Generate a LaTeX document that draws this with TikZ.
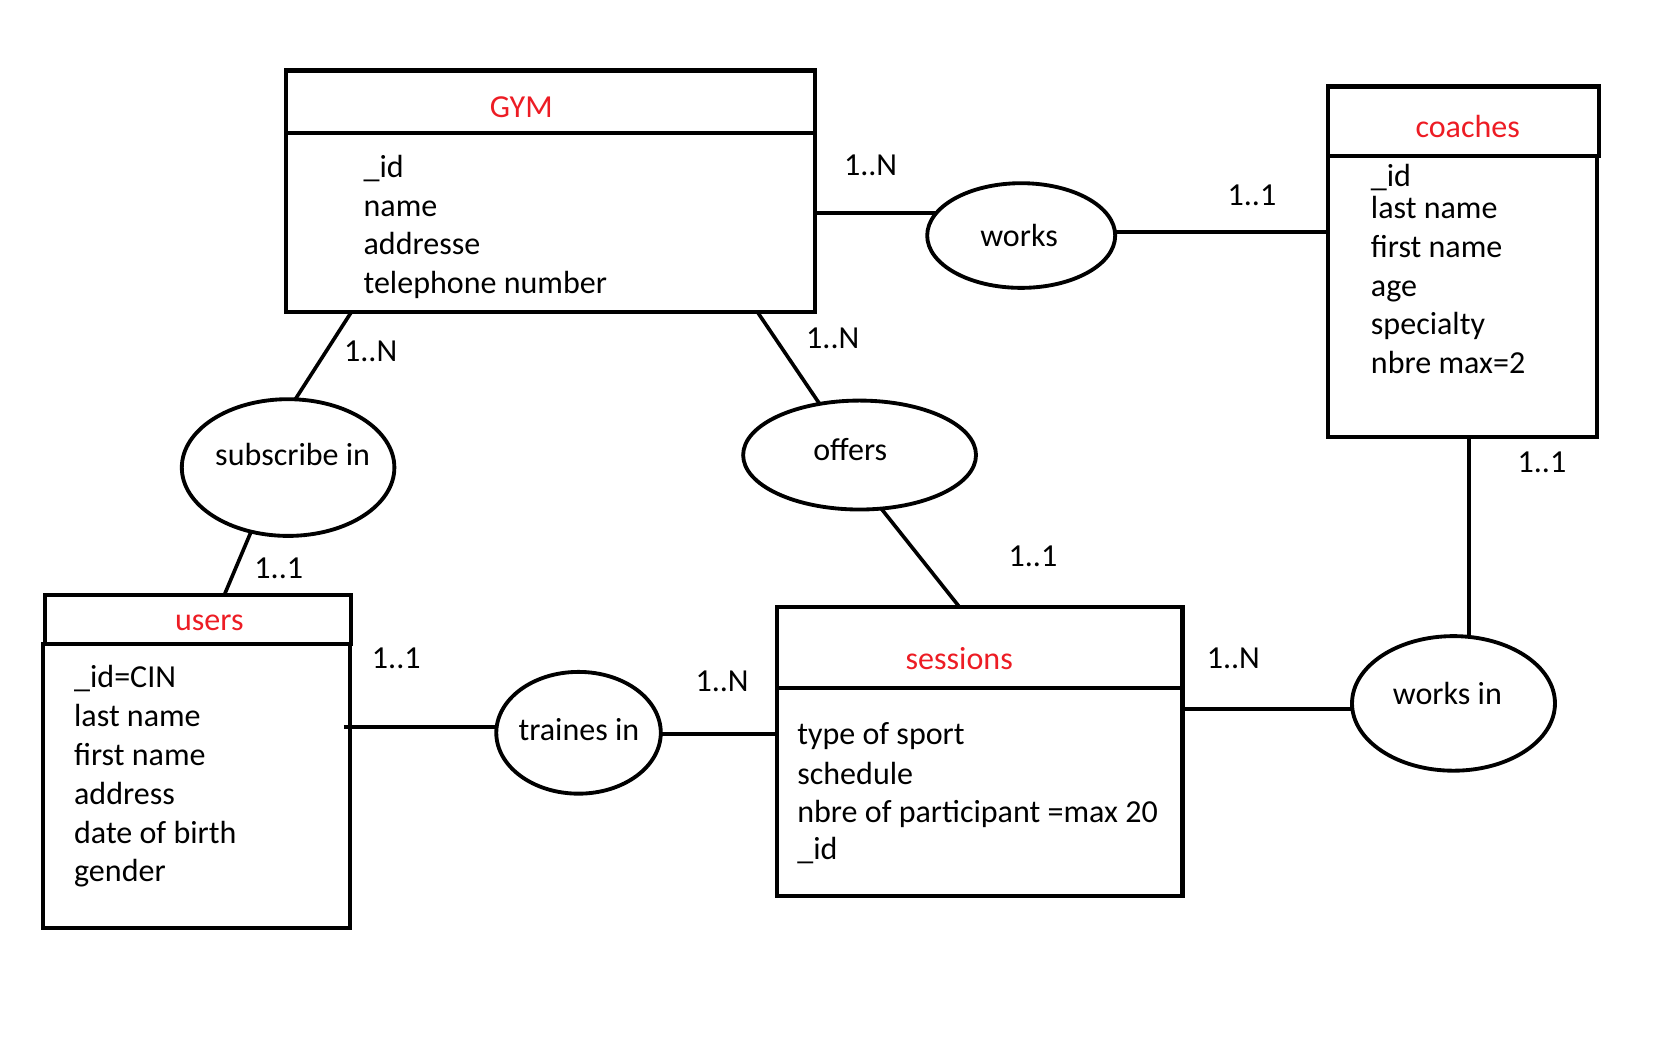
\documentclass[tikz,border=0pt]{standalone}
\usepackage{fontspec}
\setmainfont{Carlito}
\usetikzlibrary{shapes.geometric,calc}
\definecolor{paintred}{RGB}{237,28,36}
\def\u{0.5pt}
\begin{document}
\begin{tikzpicture}[x=0.5pt,y=-0.5pt,
  every node/.style={font=\fontsize{15}{18}\selectfont},
  entbox/.style={draw,rectangle,line width=1.9pt,inner sep=0pt,outer sep=0pt},
  relell/.style={draw,ellipse,line width=1.8pt,inner sep=0pt,outer sep=0pt},
  conn/.style={line width=1.7pt},
  attr/.style={anchor=base west,inner sep=0pt,yshift=-1.2pt},
  ttl/.style={anchor=base,inner sep=0pt,text=paintred,yshift=-1.2pt},
  lbl/.style={anchor=base,inner sep=0pt,yshift=-1.2pt},
  card/.style={anchor=base,inner sep=0pt,yshift=-1.2pt}]
\useasboundingbox (0,0) rectangle (1569,989);
\fill[white] (0,0) rectangle (1569,989);

% entities
\node[entbox,minimum width=495*\u,minimum height=226*\u] (gym) at (515.5,179) {};
\draw[line width=1.9pt] (gym.west |- 0,124.5) -- (gym.east |- 0,124.5);
\node[entbox,minimum width=254*\u,minimum height=65*\u] (coh) at (1370,113.5) {};
\node[entbox,minimum width=252*\u,minimum height=263*\u] (cob) at (1369,277.5) {};
\node[entbox,minimum width=287*\u,minimum height=46*\u] (uh) at (185.5,580) {};
\node[entbox,minimum width=288*\u,minimum height=266*\u] (ub) at (184,736) {};
\node[entbox,minimum width=380*\u,minimum height=271*\u] (ses) at (917,703.5) {};
\draw[line width=1.9pt] (ses.west |- 0,644.5) -- (ses.east |- 0,644.5);

% titles
\node[ttl] (gymt) at (488,108) {GYM};
\node[ttl] (coht) at (1374,126) {coaches};
\node[ttl] (uht) at (196,588) {users};
\node[ttl] (sest) at (898,624) {sessions};

% attributes
\node[attr] (g1) at (340,164) {\_id};
\node[attr] (g2) at (340,200) {name};
\node[attr] (g3) at (340,236) {addresse};
\node[attr] (g4) at (340,272) {telephone number};

\node[attr] (c1) at (1283,172) {\_id};
\node[attr] (c2) at (1283,202) {last name};
\node[attr] (c3) at (1283,239) {first name};
\node[attr] (c4) at (1283,275) {age};
\node[attr] (c5) at (1283,311) {specialty};
\node[attr] (c6) at (1283,347) {nbre max=2};

\node[attr] (u1) at (69,641) {\_id=CIN};
\node[attr] (u2) at (69,678) {last name};
\node[attr] (u3) at (69,714) {first name};
\node[attr] (u4) at (69,750.5) {address};
\node[attr] (u5) at (69,787) {date of birth};
\node[attr] (u6) at (69,823) {gender};

\node[attr] (s1) at (746,695) {type of sport};
\node[attr] (s2) at (746,732) {schedule};
\node[attr] (s3) at (746,768) {nbre of participant =max 20};
\node[attr] (s4) at (746,802) {\_id};

% relationships
\node[relell,minimum width=176*\u,minimum height=98*\u] (works) at (956,220.5) {};
\node[relell,minimum width=199*\u,minimum height=128*\u] (subs) at (269.7,437.7) {};
\node[relell,minimum width=218*\u,minimum height=102*\u] (offers) at (804.7,426) {};
\node[relell,minimum width=154*\u,minimum height=114*\u] (traines) at (541.6,686) {};
\node[relell,minimum width=190*\u,minimum height=126*\u] (worksin) at (1360.7,658.5) {};

\node[lbl] (workst) at (954,228.5) {works};
\node[lbl] (subst) at (274,433) {subscribe in};
\node[lbl] (offerst) at (796,429) {offers};
\node[lbl] (trainest) at (542,691) {traines in};
\node[lbl] (worksint) at (1355,657) {works in};

% connectors
\draw[conn] (gym.east |- works.165.6) -- (works.165.6);
\draw[conn] (works.2.3) -- (works.2.3 -| cob.west);
\draw[conn] ($(gym.south west)+(61,0)$) -- (subs.84.6);
\draw[conn] (subs.240.8) -- ($(uh.north west)+(168,0)$);
\draw[conn] ($(gym.south west)+(441,0)$) -- (offers.128.2);
\draw[conn] (offers.292.5) -- ($(ses.north west)+(171,0)$);
\draw[conn] ([xshift=-3pt]ub.east |- traines.176.7) -- (traines.176.7);
\draw[conn] (traines.-1) -- (traines.-1 -| ses.west);
\draw[conn] (ses.east |- worksin.183.3) -- (worksin.183.3);
\draw[conn] (worksin.77.1) -- (worksin.77.1 |- cob.south);

% cardinalities
\node[card] (k1) at (815,162) {1..N};
\node[card] (k2) at (1172,190) {1..1};
\node[card] (k3) at (347,336) {1..N};
\node[card] (k4) at (779.6,324) {1..N};
\node[card] (k5) at (261,539) {1..1};
\node[card] (k6) at (967,528) {1..1};
\node[card] (k7) at (371,623) {1..1};
\node[card] (k8) at (676,645) {1..N};
\node[card] (k9) at (1154.6,623) {1..N};
\node[card] (k10) at (1443.5,440) {1..1};
\end{tikzpicture}
\end{document}
